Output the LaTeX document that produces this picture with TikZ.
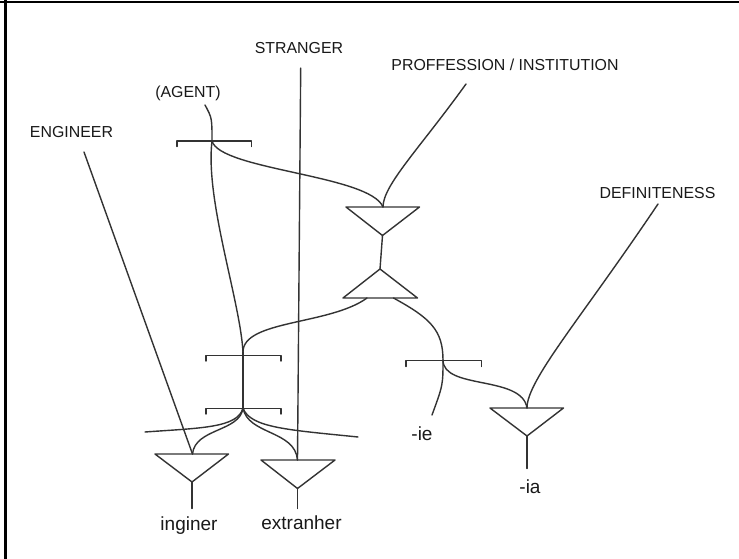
\documentclass[tikz,border=0pt]{standalone}
\usepackage{fontspec}
\setmainfont{Liberation Sans}
\begin{document}
\begin{tikzpicture}[x=1pt,y=-1pt,
  ln/.style={line width=1.4pt, draw=black!80, line cap=round, line join=round},
  caps/.style={anchor=base, font=\fontsize{15.9}{18}\selectfont, text=black!90, inner sep=0pt},
  word/.style={anchor=base, font=\fontsize{19}{22}\selectfont, text=black!90, inner sep=0pt},
  frameline/.style={line width=2.5pt, draw=black}]
\useasboundingbox (0,0) rectangle (739,559);
\fill[white] (0,0) rectangle (739,559);
% frame (top and left only)
\draw[frameline] (0,2) -- (739,2);
\draw[frameline] (5.3,0) -- (5.3,559);

% labels
\node[caps] (stranger) at (299,54) {STRANGER};
\node[caps] (prof) at (505,71) {PROFFESSION / INSTITUTION};
\node[caps] (agent) at (188,97.5) {(AGENT)};
\node[caps] (eng) at (71.5,137.5) {ENGINEER};
\node[caps] (defn) at (657.5,198.5) {DEFINITENESS};
\node[word] (inginer) at (189,530.5) {inginer};
\node[word] (extranher) at (301.5,529) {extranher};
\node[word] (ie) at (422,440) {-ie};
\node[word] (ia) at (530,493) {-ia};

% key coordinates
\coordinate (strTop) at (300.7,68);
\coordinate (profTop) at (466,84);
\coordinate (agentTop) at (205,105);
\coordinate (engTop) at (84,152);
\coordinate (defTop) at (658,204);

\coordinate (b1) at (212,141);
\coordinate (j1) at (243,352);
\coordinate (b4) at (243,408);
\coordinate (b3) at (443,360);

\coordinate (t1) at (383,207);  \coordinate (t1a) at (382.5,235.5);
\coordinate (t2) at (380,269);
\coordinate (t2l) at (367,298); \coordinate (t2r) at (393.5,298);
\coordinate (t3) at (192.5,454); \coordinate (t3a) at (192,482);
\coordinate (t4) at (297.5,460); \coordinate (t4a) at (297.5,488.5);
\coordinate (t5) at (527,408);  \coordinate (t5a) at (527,436);
\coordinate (leftEnd) at (145,432);
\coordinate (rightEnd) at (358,437);
\coordinate (ieEnd) at (432,415);
\coordinate (ingEnd) at (192,508.5);
\coordinate (extEnd) at (297.5,508.5);
\coordinate (iaEnd) at (527,468.5);

% brackets
\draw[ln] (177,146.5) -- (177,141) -- (251.5,141) -- (251.5,146.5);
\draw[ln] (206,361) -- (206,355.5) -- (281,355.5) -- (281,361);
\draw[ln] (206,414) -- (206,408.5) -- (281,408.5) -- (281,414);
\draw[ln] (406,366.5) -- (406,360.5) -- (481.5,360.5) -- (481.5,366.5);

% triangles
\draw[ln] (346,207) -- (419.5,207) -- (t1a) -- cycle;
\draw[ln] (343,298) -- (417.5,298) -- (t2) -- cycle;
\draw[ln] (155,454) -- (228.5,454) -- (t3a) -- cycle;
\draw[ln] (261,460) -- (335,460) -- (t4a) -- cycle;
\draw[ln] (490,408) -- (563.5,408) -- (t5a) -- cycle;

% connectors
\draw[ln] (strTop) -- (t4);
\draw[ln] (engTop) -- (t3);
\draw[ln] (agentTop) .. controls (212,118) .. (b1);
\draw[ln] (b1) .. controls (220,170) and (370,175) .. (t1);
\draw[ln] (profTop) .. controls (420,148) and (383,185) .. (t1);
\draw[ln] (b1) .. controls (205,200) and (240,300) .. (j1);
\draw[ln] (t1a) -- (t2);
\draw[ln] (t2l) .. controls (330,325) and (243,320) .. (j1);
\draw[ln] (j1) -- (b4);
\draw[ln] (t2r) .. controls (430,318) and (443,330) .. (b3);
\draw[ln] (b3) .. controls (443,385) .. (ieEnd);
\draw[ln] (b3) .. controls (443,390) and (522,375) .. (t5);
\draw[ln] (defTop) .. controls (580,320) and (527,380) .. (t5);
\draw[ln] (b4) .. controls (238,428) and (200,428) .. (leftEnd);
\draw[ln] (b4) .. controls (240,432) and (195,428) .. (t3);
\draw[ln] (b4) .. controls (250,428) and (290,430) .. (rightEnd);
\draw[ln] (b4) .. controls (248,435) and (295,430) .. (t4);
\draw[ln] (t3a) -- (ingEnd);
\draw[ln] (t4a) -- (extEnd);
\draw[ln] (t5a) -- (iaEnd);
\end{tikzpicture}
\end{document}
